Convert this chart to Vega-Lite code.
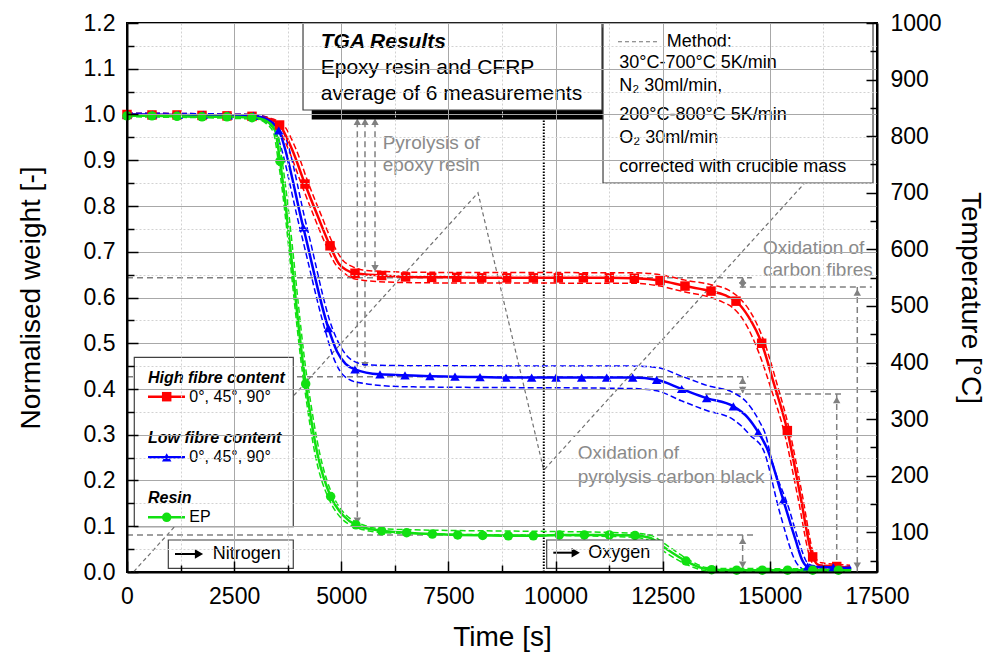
{
  "$schema": "https://vega.github.io/schema/vega-lite/v6.json",
  "width": 750,
  "height": 549,
  "autosize": {"type": "none"},
  "padding": {"left": 127, "top": 23, "right": 109, "bottom": 82},
  "background": "white",
  "config": {
    "font": "Liberation Sans",
    "view": {"stroke": "black", "strokeWidth": 2},
    "axis": {
      "labelFont": "Liberation Sans", "labelFontSize": 23, "labelColor": "black", "labelFlush": false, "labelOverlap": false,
      "titleFont": "Liberation Sans", "titleFontSize": 28, "titleFontWeight": "normal", "titleColor": "black",
      "tickColor": "black", "tickWidth": 1.5, "domainColor": "black", "domainWidth": 2
    }
  },
  "datasets": {
    "temp": [
      {"t": 0, "temp": 30}, {"t": 150, "temp": 30}, {"t": 8190, "temp": 700}, {"t": 9725, "temp": 210}, {"t": 16805, "temp": 800}
    ],
    "curves": [
      {"s":"H","k":"mean","t":0,"v":1.000,"m":1},{"s":"H","k":"mean","t":583,"v":0.999,"m":1},{"s":"H","k":"mean","t":1167,"v":0.999,"m":1},{"s":"H","k":"mean","t":1750,"v":0.998,"m":1},{"s":"H","k":"mean","t":2333,"v":0.997,"m":1},{"s":"H","k":"mean","t":2917,"v":0.996,"m":1},{"s":"H","k":"mean","t":3250,"v":0.992,"m":0},{"s":"H","k":"mean","t":3560,"v":0.977,"m":1},{"s":"H","k":"mean","t":3850,"v":0.924,"m":0},{"s":"H","k":"mean","t":4153,"v":0.848,"m":1},{"s":"H","k":"mean","t":4450,"v":0.778,"m":0},{"s":"H","k":"mean","t":4737,"v":0.713,"m":1},{"s":"H","k":"mean","t":4950,"v":0.673,"m":0},{"s":"H","k":"mean","t":5120,"v":0.660,"m":0},{"s":"H","k":"mean","t":5320,"v":0.653,"m":1},{"s":"H","k":"mean","t":5942,"v":0.648,"m":1},{"s":"H","k":"mean","t":6500,"v":0.645,"m":1},{"s":"H","k":"mean","t":7109,"v":0.644,"m":1},{"s":"H","k":"mean","t":7693,"v":0.644,"m":1},{"s":"H","k":"mean","t":8276,"v":0.643,"m":1},{"s":"H","k":"mean","t":8859,"v":0.643,"m":1},{"s":"H","k":"mean","t":9481,"v":0.643,"m":1},{"s":"H","k":"mean","t":10064,"v":0.643,"m":1},{"s":"H","k":"mean","t":10648,"v":0.643,"m":1},{"s":"H","k":"mean","t":11254,"v":0.643,"m":1},{"s":"H","k":"mean","t":11838,"v":0.642,"m":1},{"s":"H","k":"mean","t":12437,"v":0.637,"m":1},{"s":"H","k":"mean","t":13020,"v":0.625,"m":1},{"s":"H","k":"mean","t":13627,"v":0.614,"m":1},{"s":"H","k":"mean","t":13950,"v":0.605,"m":0},{"s":"H","k":"mean","t":14210,"v":0.592,"m":1},{"s":"H","k":"mean","t":14500,"v":0.558,"m":0},{"s":"H","k":"mean","t":14809,"v":0.500,"m":1},{"s":"H","k":"mean","t":15100,"v":0.410,"m":0},{"s":"H","k":"mean","t":15408,"v":0.309,"m":1},{"s":"H","k":"mean","t":15700,"v":0.172,"m":0},{"s":"H","k":"mean","t":15999,"v":0.033,"m":1},{"s":"H","k":"mean","t":16150,"v":0.015,"m":0},{"s":"H","k":"mean","t":16560,"v":0.012,"m":1},{"s":"H","k":"mean","t":16870,"v":0.009,"m":0},
      {"s":"H","k":"hi","t":0,"v":1.003,"m":0},{"s":"H","k":"hi","t":2900,"v":1.0,"m":0},{"s":"H","k":"hi","t":3350,"v":0.992,"m":0},{"s":"H","k":"hi","t":3650,"v":0.977,"m":0},{"s":"H","k":"hi","t":3940,"v":0.925,"m":0},{"s":"H","k":"hi","t":4240,"v":0.848,"m":0},{"s":"H","k":"hi","t":4540,"v":0.778,"m":0},{"s":"H","k":"hi","t":4830,"v":0.713,"m":0},{"s":"H","k":"hi","t":5050,"v":0.680,"m":0},{"s":"H","k":"hi","t":5250,"v":0.668,"m":0},{"s":"H","k":"hi","t":5500,"v":0.660,"m":0},{"s":"H","k":"hi","t":6000,"v":0.657,"m":0},{"s":"H","k":"hi","t":7000,"v":0.655,"m":0},{"s":"H","k":"hi","t":11838,"v":0.654,"m":0},{"s":"H","k":"hi","t":12437,"v":0.650,"m":0},{"s":"H","k":"hi","t":13020,"v":0.638,"m":0},{"s":"H","k":"hi","t":13627,"v":0.628,"m":0},{"s":"H","k":"hi","t":14000,"v":0.618,"m":0},{"s":"H","k":"hi","t":14300,"v":0.598,"m":0},{"s":"H","k":"hi","t":14600,"v":0.560,"m":0},{"s":"H","k":"hi","t":14880,"v":0.500,"m":0},{"s":"H","k":"hi","t":15170,"v":0.410,"m":0},{"s":"H","k":"hi","t":15460,"v":0.309,"m":0},{"s":"H","k":"hi","t":15750,"v":0.172,"m":0},{"s":"H","k":"hi","t":16040,"v":0.035,"m":0},{"s":"H","k":"hi","t":16200,"v":0.020,"m":0},{"s":"H","k":"hi","t":16870,"v":0.015,"m":0},
      {"s":"H","k":"lo","t":0,"v":0.997,"m":0},{"s":"H","k":"lo","t":2900,"v":0.993,"m":0},{"s":"H","k":"lo","t":3180,"v":0.988,"m":0},{"s":"H","k":"lo","t":3470,"v":0.977,"m":0},{"s":"H","k":"lo","t":3760,"v":0.925,"m":0},{"s":"H","k":"lo","t":4070,"v":0.848,"m":0},{"s":"H","k":"lo","t":4360,"v":0.778,"m":0},{"s":"H","k":"lo","t":4650,"v":0.713,"m":0},{"s":"H","k":"lo","t":4870,"v":0.672,"m":0},{"s":"H","k":"lo","t":5050,"v":0.655,"m":0},{"s":"H","k":"lo","t":5300,"v":0.641,"m":0},{"s":"H","k":"lo","t":6000,"v":0.634,"m":0},{"s":"H","k":"lo","t":7000,"v":0.632,"m":0},{"s":"H","k":"lo","t":11838,"v":0.631,"m":0},{"s":"H","k":"lo","t":12437,"v":0.625,"m":0},{"s":"H","k":"lo","t":13020,"v":0.612,"m":0},{"s":"H","k":"lo","t":13627,"v":0.600,"m":0},{"s":"H","k":"lo","t":13900,"v":0.590,"m":0},{"s":"H","k":"lo","t":14130,"v":0.578,"m":0},{"s":"H","k":"lo","t":14420,"v":0.545,"m":0},{"s":"H","k":"lo","t":14740,"v":0.480,"m":0},{"s":"H","k":"lo","t":15030,"v":0.400,"m":0},{"s":"H","k":"lo","t":15350,"v":0.300,"m":0},{"s":"H","k":"lo","t":15650,"v":0.165,"m":0},{"s":"H","k":"lo","t":15950,"v":0.028,"m":0},{"s":"H","k":"lo","t":16100,"v":0.008,"m":0},{"s":"H","k":"lo","t":16870,"v":0.004,"m":0},
      {"s":"L","k":"mean","t":0,"v":1.000,"m":1},{"s":"L","k":"mean","t":600,"v":1.000,"m":1},{"s":"L","k":"mean","t":1197,"v":0.999,"m":1},{"s":"L","k":"mean","t":1780,"v":0.999,"m":1},{"s":"L","k":"mean","t":2365,"v":0.998,"m":1},{"s":"L","k":"mean","t":2948,"v":0.997,"m":1},{"s":"L","k":"mean","t":3250,"v":0.990,"m":0},{"s":"L","k":"mean","t":3540,"v":0.965,"m":1},{"s":"L","k":"mean","t":4114,"v":0.753,"m":1},{"s":"L","k":"mean","t":4698,"v":0.533,"m":1},{"s":"L","k":"mean","t":4900,"v":0.482,"m":0},{"s":"L","k":"mean","t":5100,"v":0.455,"m":0},{"s":"L","k":"mean","t":5320,"v":0.443,"m":1},{"s":"L","k":"mean","t":5903,"v":0.432,"m":1},{"s":"L","k":"mean","t":6487,"v":0.430,"m":1},{"s":"L","k":"mean","t":7070,"v":0.428,"m":1},{"s":"L","k":"mean","t":7653,"v":0.427,"m":1},{"s":"L","k":"mean","t":8237,"v":0.426,"m":1},{"s":"L","k":"mean","t":8843,"v":0.425,"m":1},{"s":"L","k":"mean","t":9442,"v":0.425,"m":1},{"s":"L","k":"mean","t":10010,"v":0.425,"m":1},{"s":"L","k":"mean","t":10609,"v":0.425,"m":1},{"s":"L","k":"mean","t":11193,"v":0.425,"m":1},{"s":"L","k":"mean","t":11799,"v":0.425,"m":1},{"s":"L","k":"mean","t":12359,"v":0.420,"m":1},{"s":"L","k":"mean","t":12942,"v":0.400,"m":1},{"s":"L","k":"mean","t":13526,"v":0.380,"m":1},{"s":"L","k":"mean","t":14148,"v":0.362,"m":1},{"s":"L","k":"mean","t":14480,"v":0.338,"m":0},{"s":"L","k":"mean","t":14731,"v":0.305,"m":1},{"s":"L","k":"mean","t":14925,"v":0.272,"m":0},{"s":"L","k":"mean","t":15314,"v":0.157,"m":1},{"s":"L","k":"mean","t":15600,"v":0.070,"m":0},{"s":"L","k":"mean","t":15760,"v":0.025,"m":0},{"s":"L","k":"mean","t":15882,"v":0.012,"m":1},{"s":"L","k":"mean","t":16480,"v":0.010,"m":1},{"s":"L","k":"mean","t":16900,"v":0.008,"m":0},
      {"s":"L","k":"hi","t":0,"v":1.003,"m":0},{"s":"L","k":"hi","t":2900,"v":1.0,"m":0},{"s":"L","k":"hi","t":3300,"v":0.992,"m":0},{"s":"L","k":"hi","t":3630,"v":0.965,"m":0},{"s":"L","k":"hi","t":4200,"v":0.753,"m":0},{"s":"L","k":"hi","t":4790,"v":0.533,"m":0},{"s":"L","k":"hi","t":5000,"v":0.490,"m":0},{"s":"L","k":"hi","t":5250,"v":0.463,"m":0},{"s":"L","k":"hi","t":5600,"v":0.453,"m":0},{"s":"L","k":"hi","t":6500,"v":0.451,"m":0},{"s":"L","k":"hi","t":11799,"v":0.450,"m":0},{"s":"L","k":"hi","t":12359,"v":0.447,"m":0},{"s":"L","k":"hi","t":12942,"v":0.428,"m":0},{"s":"L","k":"hi","t":13526,"v":0.408,"m":0},{"s":"L","k":"hi","t":14148,"v":0.392,"m":0},{"s":"L","k":"hi","t":14450,"v":0.372,"m":0},{"s":"L","k":"hi","t":14750,"v":0.330,"m":0},{"s":"L","k":"hi","t":14900,"v":0.300,"m":0},{"s":"L","k":"hi","t":15042,"v":0.245,"m":0},{"s":"L","k":"hi","t":15430,"v":0.143,"m":0},{"s":"L","k":"hi","t":15700,"v":0.060,"m":0},{"s":"L","k":"hi","t":15860,"v":0.022,"m":0},{"s":"L","k":"hi","t":16000,"v":0.014,"m":0},{"s":"L","k":"hi","t":16900,"v":0.012,"m":0},
      {"s":"L","k":"lo","t":0,"v":0.997,"m":0},{"s":"L","k":"lo","t":2900,"v":0.994,"m":0},{"s":"L","k":"lo","t":3200,"v":0.986,"m":0},{"s":"L","k":"lo","t":3450,"v":0.965,"m":0},{"s":"L","k":"lo","t":4030,"v":0.753,"m":0},{"s":"L","k":"lo","t":4610,"v":0.533,"m":0},{"s":"L","k":"lo","t":4820,"v":0.468,"m":0},{"s":"L","k":"lo","t":5050,"v":0.430,"m":0},{"s":"L","k":"lo","t":5400,"v":0.414,"m":0},{"s":"L","k":"lo","t":6500,"v":0.405,"m":0},{"s":"L","k":"lo","t":11799,"v":0.401,"m":0},{"s":"L","k":"lo","t":12359,"v":0.396,"m":0},{"s":"L","k":"lo","t":12942,"v":0.374,"m":0},{"s":"L","k":"lo","t":13526,"v":0.353,"m":0},{"s":"L","k":"lo","t":14148,"v":0.333,"m":0},{"s":"L","k":"lo","t":14350,"v":0.318,"m":0},{"s":"L","k":"lo","t":14537,"v":0.299,"m":0},{"s":"L","k":"lo","t":14848,"v":0.267,"m":0},{"s":"L","k":"lo","t":15237,"v":0.128,"m":0},{"s":"L","k":"lo","t":15627,"v":0.019,"m":0},{"s":"L","k":"lo","t":15800,"v":0.006,"m":0},{"s":"L","k":"lo","t":16900,"v":0.005,"m":0},
      {"s":"R","k":"mean","t":0,"v":0.997,"m":1},{"s":"R","k":"mean","t":583,"v":0.997,"m":1},{"s":"R","k":"mean","t":1167,"v":0.996,"m":1},{"s":"R","k":"mean","t":1750,"v":0.995,"m":1},{"s":"R","k":"mean","t":2333,"v":0.995,"m":1},{"s":"R","k":"mean","t":2917,"v":0.993,"m":1},{"s":"R","k":"mean","t":3200,"v":0.988,"m":0},{"s":"R","k":"mean","t":3453,"v":0.966,"m":0},{"s":"R","k":"mean","t":3570,"v":0.898,"m":1},{"s":"R","k":"mean","t":4169,"v":0.411,"m":1},{"s":"R","k":"mean","t":4450,"v":0.255,"m":0},{"s":"R","k":"mean","t":4752,"v":0.165,"m":1},{"s":"R","k":"mean","t":5050,"v":0.123,"m":0},{"s":"R","k":"mean","t":5343,"v":0.103,"m":1},{"s":"R","k":"mean","t":5942,"v":0.090,"m":1},{"s":"R","k":"mean","t":6525,"v":0.086,"m":1},{"s":"R","k":"mean","t":7125,"v":0.083,"m":1},{"s":"R","k":"mean","t":7716,"v":0.081,"m":1},{"s":"R","k":"mean","t":8299,"v":0.080,"m":1},{"s":"R","k":"mean","t":8898,"v":0.079,"m":1},{"s":"R","k":"mean","t":9482,"v":0.079,"m":1},{"s":"R","k":"mean","t":10087,"v":0.081,"m":1},{"s":"R","k":"mean","t":10671,"v":0.081,"m":1},{"s":"R","k":"mean","t":11254,"v":0.081,"m":1},{"s":"R","k":"mean","t":11853,"v":0.080,"m":1},{"s":"R","k":"mean","t":12200,"v":0.075,"m":0},{"s":"R","k":"mean","t":12514,"v":0.055,"m":0},{"s":"R","k":"mean","t":13043,"v":0.024,"m":1},{"s":"R","k":"mean","t":13400,"v":0.009,"m":0},{"s":"R","k":"mean","t":13642,"v":0.005,"m":1},{"s":"R","k":"mean","t":14226,"v":0.004,"m":1},{"s":"R","k":"mean","t":14823,"v":0.004,"m":1},{"s":"R","k":"mean","t":15414,"v":0.004,"m":1},{"s":"R","k":"mean","t":16000,"v":0.004,"m":1},{"s":"R","k":"mean","t":16600,"v":0.004,"m":1},{"s":"R","k":"mean","t":16900,"v":0.004,"m":0},
      {"s":"R","k":"hi","t":0,"v":0.999,"m":0},{"s":"R","k":"hi","t":3000,"v":0.996,"m":0},{"s":"R","k":"hi","t":3300,"v":0.985,"m":0},{"s":"R","k":"hi","t":3500,"v":0.966,"m":0},{"s":"R","k":"hi","t":3620,"v":0.898,"m":0},{"s":"R","k":"hi","t":4220,"v":0.411,"m":0},{"s":"R","k":"hi","t":4500,"v":0.258,"m":0},{"s":"R","k":"hi","t":4800,"v":0.168,"m":0},{"s":"R","k":"hi","t":5400,"v":0.107,"m":0},{"s":"R","k":"hi","t":6000,"v":0.094,"m":0},{"s":"R","k":"hi","t":11853,"v":0.085,"m":0},{"s":"R","k":"hi","t":12250,"v":0.079,"m":0},{"s":"R","k":"hi","t":12600,"v":0.058,"m":0},{"s":"R","k":"hi","t":13120,"v":0.026,"m":0},{"s":"R","k":"hi","t":13500,"v":0.010,"m":0},{"s":"R","k":"hi","t":13700,"v":0.008,"m":0},{"s":"R","k":"hi","t":16900,"v":0.007,"m":0},
      {"s":"R","k":"lo","t":0,"v":0.995,"m":0},{"s":"R","k":"lo","t":3000,"v":0.990,"m":0},{"s":"R","k":"lo","t":3250,"v":0.980,"m":0},{"s":"R","k":"lo","t":3420,"v":0.960,"m":0},{"s":"R","k":"lo","t":3530,"v":0.898,"m":0},{"s":"R","k":"lo","t":4130,"v":0.411,"m":0},{"s":"R","k":"lo","t":4400,"v":0.252,"m":0},{"s":"R","k":"lo","t":4700,"v":0.162,"m":0},{"s":"R","k":"lo","t":5300,"v":0.099,"m":0},{"s":"R","k":"lo","t":6000,"v":0.086,"m":0},{"s":"R","k":"lo","t":11853,"v":0.076,"m":0},{"s":"R","k":"lo","t":12150,"v":0.070,"m":0},{"s":"R","k":"lo","t":12450,"v":0.050,"m":0},{"s":"R","k":"lo","t":12980,"v":0.020,"m":0},{"s":"R","k":"lo","t":13350,"v":0.006,"m":0},{"s":"R","k":"lo","t":13600,"v":0.002,"m":0},{"s":"R","k":"lo","t":16900,"v":0.001,"m":0}
    ],
    "switch": [{"t": 9725, "v": 0, "v2": 1.2}],
    "ann": [
      {"t":0,"t2":14580,"v":0.643,"v2":0.643},{"t":14300,"t2":17380,"v":0.623,"v2":0.623},
      {"t":0,"t2":14500,"v":0.427,"v2":0.427},{"t":13487,"t2":16683,"v":0.389,"v2":0.389},
      {"t":0,"t2":14653,"v":0.081,"v2":0.081},
      {"t":5374,"t2":5374,"v":0.985,"v2":0.10},{"t":5553,"t2":5553,"v":0.985,"v2":0.44},{"t":5787,"t2":5787,"v":0.985,"v2":0.655},
      {"t":14365,"t2":14365,"v":0.643,"v2":0.623},{"t":14365,"t2":14365,"v":0.427,"v2":0.389},{"t":14365,"t2":14365,"v":0.081,"v2":0},
      {"t":17040,"t2":17040,"v":0.623,"v2":0},{"t":16560,"t2":16560,"v":0.389,"v2":0}
    ],
    "arrows": [
      {"t":5374,"v":0.984,"dir":"up"},{"t":5553,"v":0.984,"dir":"up"},{"t":5787,"v":0.984,"dir":"up"},
      {"t":5787,"v":0.664,"dir":"down"},{"t":5553,"v":0.452,"dir":"down"},{"t":5374,"v":0.112,"dir":"down"},
      {"t":14365,"v":0.637,"dir":"up"},{"t":14365,"v":0.627,"dir":"down"},
      {"t":14365,"v":0.418,"dir":"up"},{"t":14365,"v":0.398,"dir":"down"},
      {"t":14365,"v":0.068,"dir":"up"},{"t":14365,"v":0.016,"dir":"down"},
      {"t":17040,"v":0.611,"dir":"up"},{"t":17040,"v":0.014,"dir":"down"},
      {"t":16560,"v":0.376,"dir":"up"},{"t":16560,"v":0.014,"dir":"down"}
    ],
    "bg": [
      {"t":5857,"t2":8283,"v":0.8612,"v2":0.9618},
      {"t":14723,"t2":17220,"v":0.6317,"v2":0.7322},
      {"t":10383,"t2":14957,"v":0.177,"v2":0.295}
    ],
    "notes": [
      {"t":5966,"v":0.9377,"label":"Pyrolysis of"},{"t":5966,"v":0.8889,"label":"epoxy resin"},
      {"t":14840,"v":0.7082,"label":"Oxidation of"},{"t":14840,"v":0.6601,"label":"carbon fibres"},
      {"t":10516,"v":0.2594,"label":"Oxidation of"},{"t":10516,"v":0.2083,"label":"pyrolysis carbon black"}
    ],
    "boxes": [
      {"t":4310,"t2":11120,"v":0.989,"v2":1.19,"kind":"shadow"},
      {"t":4107,"t2":11083,"v":1.0098,"v2":1.2,"kind":"box"},
      {"t":11107,"t2":17407,"v":0.8503,"v2":1.2,"kind":"box"},
      {"t":170,"t2":3880,"v":0.099,"v2":0.4693,"kind":"box"},
      {"t":964,"t2":3880,"v":0.0081,"v2":0.0699,"kind":"box"},
      {"t":9793,"t2":12514,"v":0.0081,"v2":0.07,"kind":"box"}
    ],
    "texts": [
      {"t":4520,"v":1.1591,"label":"TGA Results","style":"tgaTitle"},
      {"t":4520,"v":1.101,"label":"Epoxy resin and CFRP","style":"tga"},
      {"t":4520,"v":1.0448,"label":"average of 6 measurements","style":"tga"},
      {"t":12593,"v":1.1591,"label":"Method:","style":"method"},
      {"t":11487,"v":1.1119,"label":"30°C-700°C 5K/min","style":"method"},
      {"t":11487,"v":1.0623,"label":"N₂ 30ml/min,","style":"method"},
      {"t":11487,"v":0.9989,"label":"200°C-800°C 5K/min","style":"method"},
      {"t":11487,"v":0.9479,"label":"O₂ 30ml/min","style":"method"},
      {"t":11487,"v":0.8859,"label":"corrected with crucible mass","style":"method"},
      {"t":490,"v":0.4234,"label":"High fibre content","style":"legHead"},
      {"t":490,"v":0.2922,"label":"Low fibre content","style":"legHead"},
      {"t":490,"v":0.1611,"label":"Resin","style":"legHead"},
      {"t":1454,"v":0.3832,"label":"0°, 45°, 90°","style":"leg"},
      {"t":1454,"v":0.2507,"label":"0°, 45°, 90°","style":"leg"},
      {"t":1454,"v":0.1196,"label":"EP","style":"leg"},
      {"t":2000,"v":0.0393,"label":"Nitrogen","style":"gas"},
      {"t":10764,"v":0.0422,"label":"Oxygen","style":"gas"}
    ],
    "legsamp": [
      {"s":"H","t":490,"t2":1353,"v":0.3832},
      {"s":"L","t":490,"t2":1353,"v":0.2507},
      {"s":"R","t":490,"t2":1353,"v":0.1196}
    ],
    "legmark": [
      {"s":"H","t":926,"v":0.3832},
      {"s":"L","t":926,"v":0.2507},
      {"s":"R","t":926,"v":0.1196}
    ],
    "gasArrow": [
      {"t":1120,"t2":1620,"v":0.0393},
      {"t":9947,"t2":10400,"v":0.0422}
    ],
    "gasHead": [
      {"t":1680,"v":0.0393},
      {"t":10470,"v":0.0422}
    ],
    "methodDash": [{"t":11456,"t2":12436,"v":1.159}]
  },
  "encoding": {
    "x": {
      "field": "t", "type": "quantitative",
      "scale": {"domain": [0, 17500], "nice": false, "zero": false},
      "axis": {
        "orient": "bottom", "title": "Time [s]", "grid": true, "zindex": 2,
        "values": [0,1250,2500,3750,5000,6250,7500,8750,10000,11250,12500,13750,15000,16250,17500],
        "labelExpr": "datum.value % 2500 === 0 ? format(datum.value, 'd') : ''",
        "tickSize": -11,
        "tickDash": {"condition": {"test": "datum.value % 2500 === 0", "value": []}, "value": [7, 20]},
        "gridColor": {"condition": {"test": "datum.value % 2500 === 0", "value": "#a8a8a8"}, "value": "#d2d2d2"},
        "gridDash": {"condition": {"test": "datum.value % 2500 === 0", "value": []}, "value": [2, 2]},
        "gridWidth": 1,
        "labelPadding": 24, "titlePadding": 15
      }
    }
  },
  "layer": [
    {
      "data": {"name": "temp"},
      "mark": {"type": "line", "stroke": "#707070", "strokeWidth": 1.2, "strokeDash": [4, 3]},
      "encoding": {
        "y": {
          "field": "temp", "type": "quantitative",
          "scale": {"domain": [30, 1000], "nice": false, "zero": false},
          "axis": {
            "orient": "right", "title": "Temperature [°C]", "grid": false, "zindex": 2,
            "values": [50,100,150,200,250,300,350,400,450,500,550,600,650,700,750,800,850,900,950,1000],
            "labelExpr": "datum.value % 100 === 0 ? format(datum.value, 'd') : ''",
            "tickSize": -11,
            "tickDash": {"condition": {"test": "datum.value % 100 === 0", "value": []}, "value": [7, 20]},
            "labelPadding": 24, "titlePadding": 14
          }
        }
      }
    },
    {
      "encoding": {
        "y": {
          "field": "v", "type": "quantitative",
          "scale": {"domain": [0, 1.2], "nice": false, "zero": false},
          "axis": {
            "orient": "left", "title": "Normalised weight [-]", "grid": true, "zindex": 2,
            "values": [0,0.05,0.1,0.15,0.2,0.25,0.3,0.35,0.4,0.45,0.5,0.55,0.6,0.65,0.7,0.75,0.8,0.85,0.9,0.95,1.0,1.05,1.1,1.15,1.2],
            "labelExpr": "abs(datum.value * 10 - round(datum.value * 10)) < 0.001 ? format(datum.value, '.1f') : ''",
            "tickSize": -11,
            "tickDash": {"condition": {"test": "abs(datum.value * 10 - round(datum.value * 10)) < 0.001", "value": []}, "value": [7, 20]},
            "gridColor": {"condition": {"test": "abs(datum.value * 10 - round(datum.value * 10)) < 0.001", "value": "#a8a8a8"}, "value": "#d2d2d2"},
            "gridDash": {"condition": {"test": "abs(datum.value * 10 - round(datum.value * 10)) < 0.001", "value": []}, "value": [2, 2]},
            "gridWidth": 1,
            "labelPadding": 23, "titlePadding": 38
          }
        }
      },
      "layer": [
        {
          "data": {"name": "switch"},
          "mark": {"type": "rule", "stroke": "black", "strokeWidth": 2, "strokeDash": [1.5, 1.5]},
          "encoding": {"y2": {"field": "v2"}}
        },
        {
          "data": {"name": "ann"},
          "mark": {"type": "rule", "stroke": "#808080", "strokeWidth": 1.5, "strokeDash": [6, 4]},
          "encoding": {"x2": {"field": "t2"}, "y2": {"field": "v2"}}
        },
        {
          "data": {"name": "bg"},
          "mark": {"type": "rect", "fill": "white"},
          "encoding": {"x2": {"field": "t2"}, "y2": {"field": "v2"}}
        },
        {
          "data": {"name": "notes"},
          "mark": {"type": "text", "align": "left", "baseline": "middle", "fontSize": 19, "fill": "#8a8a8a", "font": "Liberation Sans"},
          "encoding": {"text": {"field": "label"}}
        },
        {
          "data": {"name": "arrows"},
          "transform": [{"filter": "datum.dir === 'up'"}],
          "mark": {"type": "point", "shape": "triangle-up", "filled": true, "size": 55, "fill": "#808080", "opacity": 1, "strokeWidth": 0}
        },
        {
          "data": {"name": "arrows"},
          "transform": [{"filter": "datum.dir === 'down'"}],
          "mark": {"type": "point", "shape": "triangle-down", "filled": true, "size": 55, "fill": "#808080", "opacity": 1, "strokeWidth": 0}
        },
        {
          "data": {"name": "curves"},
          "transform": [{"filter": "datum.k !== 'mean'"}],
          "mark": {"type": "line", "strokeWidth": 1.5, "strokeDash": [6, 3], "interpolate": "monotone"},
          "encoding": {
            "color": {"field": "s", "type": "nominal", "scale": {"domain": ["H", "L", "R"], "range": ["#ff0000", "#0000ff", "#11e011"]}, "legend": null},
            "detail": {"field": "k"}
          }
        },
        {
          "data": {"name": "curves"},
          "transform": [{"filter": "datum.k === 'mean'"}],
          "mark": {"type": "line", "strokeWidth": 2.5, "interpolate": "monotone"},
          "encoding": {
            "color": {"field": "s", "type": "nominal", "scale": {"domain": ["H", "L", "R"], "range": ["#ff0000", "#0000ff", "#11e011"]}, "legend": null}
          }
        },
        {
          "data": {"name": "curves"},
          "transform": [{"filter": "datum.m === 1"}],
          "mark": {"type": "point", "filled": true, "size": 90, "opacity": 1},
          "encoding": {
            "color": {"field": "s", "type": "nominal", "scale": {"domain": ["H", "L", "R"], "range": ["#ff0000", "#0000ff", "#11e011"]}, "legend": null},
            "shape": {"field": "s", "type": "nominal", "scale": {"domain": ["H", "L", "R"], "range": ["square", "triangle-up", "circle"]}, "legend": null}
          }
        },
        {
          "data": {"name": "boxes"},
          "transform": [{"filter": "datum.kind === 'shadow'"}],
          "mark": {"type": "rect", "fill": "black"},
          "encoding": {"x2": {"field": "t2"}, "y2": {"field": "v2"}}
        },
        {
          "data": {"name": "boxes"},
          "transform": [{"filter": "datum.kind === 'box'"}],
          "mark": {"type": "rect", "fill": "white", "stroke": "#404040", "strokeWidth": 1.2},
          "encoding": {"x2": {"field": "t2"}, "y2": {"field": "v2"}}
        },
        {
          "data": {"name": "methodDash"},
          "mark": {"type": "rule", "stroke": "#707070", "strokeWidth": 1.2, "strokeDash": [4, 3]},
          "encoding": {"x2": {"field": "t2"}}
        },
        {
          "data": {"name": "legsamp"},
          "mark": {"type": "rule", "strokeWidth": 2.5},
          "encoding": {
            "x2": {"field": "t2"},
            "color": {"field": "s", "type": "nominal", "scale": {"domain": ["H", "L", "R"], "range": ["#ff0000", "#0000ff", "#11e011"]}, "legend": null}
          }
        },
        {
          "data": {"name": "legmark"},
          "mark": {"type": "point", "filled": true, "size": 90, "opacity": 1},
          "encoding": {
            "color": {"field": "s", "type": "nominal", "scale": {"domain": ["H", "L", "R"], "range": ["#ff0000", "#0000ff", "#11e011"]}, "legend": null},
            "shape": {"field": "s", "type": "nominal", "scale": {"domain": ["H", "L", "R"], "range": ["square", "triangle-up", "circle"]}, "legend": null}
          }
        },
        {
          "data": {"name": "gasArrow"},
          "mark": {"type": "rule", "stroke": "black", "strokeWidth": 2},
          "encoding": {"x2": {"field": "t2"}}
        },
        {
          "data": {"name": "gasHead"},
          "mark": {"type": "point", "shape": "triangle-right", "filled": true, "size": 90, "fill": "black", "opacity": 1, "strokeWidth": 0}
        },
        {
          "data": {"name": "texts"},
          "transform": [{"filter": "datum.style === 'tgaTitle'"}],
          "mark": {"type": "text", "align": "left", "baseline": "middle", "fontSize": 21, "fontWeight": "bold", "fontStyle": "italic", "fill": "black", "font": "Liberation Sans"},
          "encoding": {"text": {"field": "label"}}
        },
        {
          "data": {"name": "texts"},
          "transform": [{"filter": "datum.style === 'tga'"}],
          "mark": {"type": "text", "align": "left", "baseline": "middle", "fontSize": 21, "fill": "black", "font": "Liberation Sans"},
          "encoding": {"text": {"field": "label"}}
        },
        {
          "data": {"name": "texts"},
          "transform": [{"filter": "datum.style === 'method'"}],
          "mark": {"type": "text", "align": "left", "baseline": "middle", "fontSize": 18, "fill": "black", "font": "Liberation Sans"},
          "encoding": {"text": {"field": "label"}}
        },
        {
          "data": {"name": "texts"},
          "transform": [{"filter": "datum.style === 'legHead'"}],
          "mark": {"type": "text", "align": "left", "baseline": "middle", "fontSize": 16, "fontWeight": "bold", "fontStyle": "italic", "fill": "black", "font": "Liberation Sans"},
          "encoding": {"text": {"field": "label"}}
        },
        {
          "data": {"name": "texts"},
          "transform": [{"filter": "datum.style === 'leg'"}],
          "mark": {"type": "text", "align": "left", "baseline": "middle", "fontSize": 16, "fill": "black", "font": "Liberation Sans"},
          "encoding": {"text": {"field": "label"}}
        },
        {
          "data": {"name": "texts"},
          "transform": [{"filter": "datum.style === 'gas'"}],
          "mark": {"type": "text", "align": "left", "baseline": "middle", "fontSize": 18, "fill": "black", "font": "Liberation Sans"},
          "encoding": {"text": {"field": "label"}}
        }
      ]
    }
  ],
  "resolve": {"scale": {"y": "independent"}}
}
